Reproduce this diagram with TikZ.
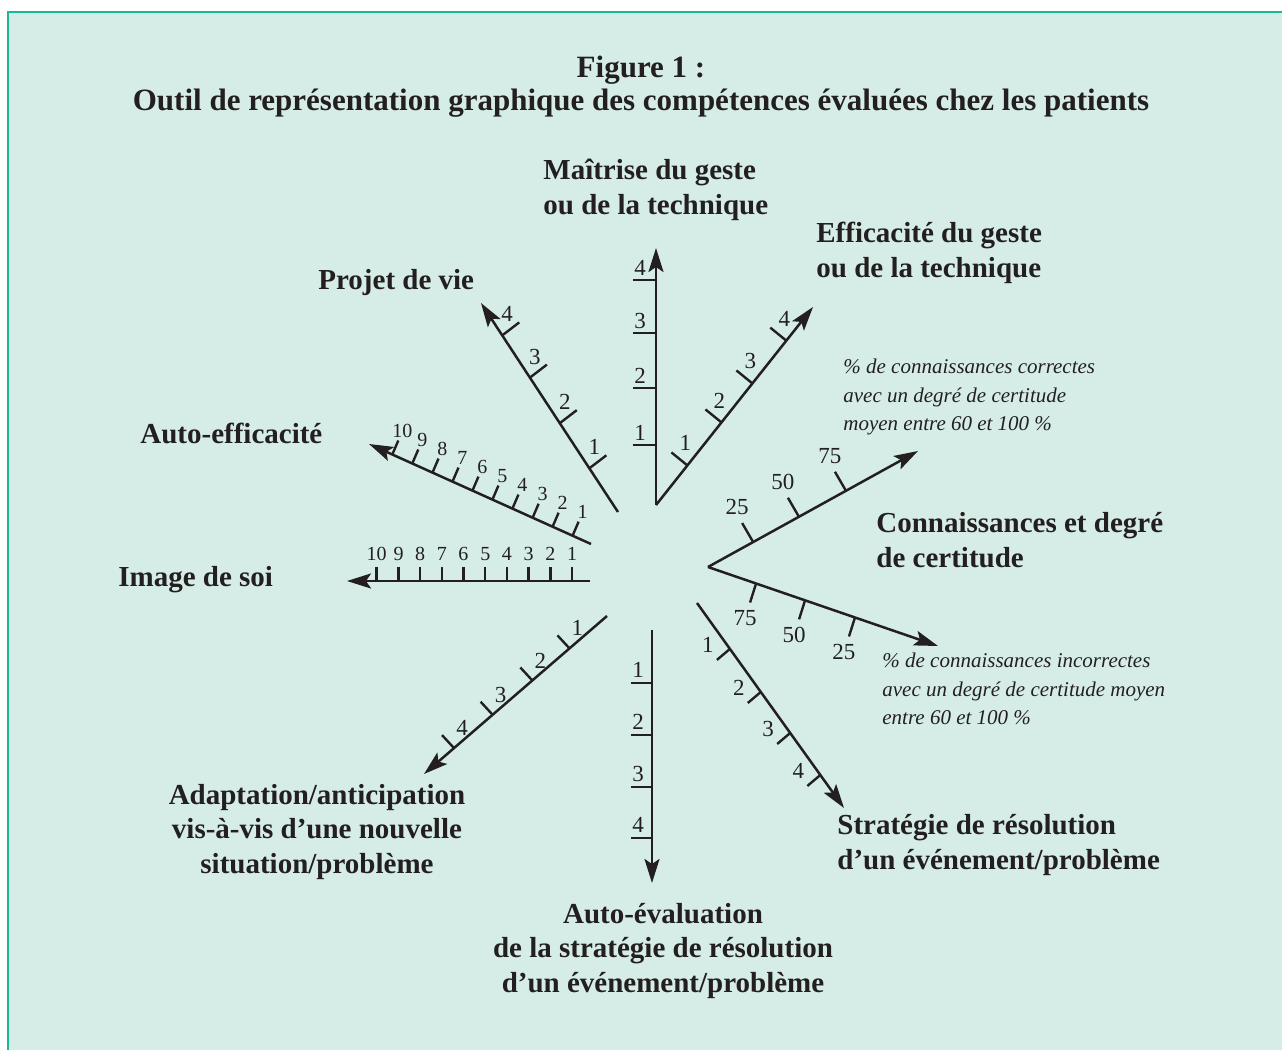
\documentclass[tikz,border=0pt]{standalone}
\usepackage{fontspec}
\setmainfont{Liberation Serif}
\usepackage{xcolor}
\usetikzlibrary{arrows.meta,calc,positioning}
\definecolor{fond}{RGB}{214,237,231}
\definecolor{bord}{RGB}{26,184,150}
\definecolor{encre}{RGB}{35,31,32}

\begin{document}
\begin{tikzpicture}[x=0.5pt, y=-0.5pt]
	\tikzstyle{axe} = [draw = encre, line width = 1.25pt, -{Stealth[length=12pt, width=7.5pt, inset=2.5pt]}]
	\tikzstyle{graduation} = [draw = encre, line width = 1.2pt]
	\tikzstyle{num} = [text = encre, font = \fontsize{11.5}{12}\selectfont, inner sep = 0pt]
	\tikzstyle{petit} = [num, font = \fontsize{10}{10}\selectfont]
	\tikzstyle{entete} = [text = encre, font = \fontsize{15.5}{16.5}\selectfont\bfseries, inner sep = 0pt, align = center]
	\tikzstyle{titre} = [text = encre, font = \fontsize{14.5}{17.2}\selectfont\bfseries, inner sep = 0pt, align = left]
	\tikzstyle{note} = [text = encre, font = \fontsize{10.5}{14.3}\selectfont\itshape, inner sep = 0pt, align = left]
\useasboundingbox (0,0) rectangle (1282,1050);
\fill[fond] (8,12) rectangle (1282,1050);
\draw[bord, line width = 0.8pt] (1282,12) -- (8,12) -- (8,1050);

\node[entete] (titre) at (641,87) {Figure 1~:\\Outil de représentation graphique des compétences évaluées chez les patients};

% extremites des axes
\coordinate (m0) at (656,505);  \coordinate (m1) at (656,248);
\coordinate (e0) at (656,505);  \coordinate (e1) at (813,307);
\coordinate (c0) at (708,567);  \coordinate (c1) at (918,451);
\coordinate (i0) at (708,567);  \coordinate (i1) at (938,646);
\coordinate (s0) at (697,603);  \coordinate (s1) at (844,808);
\coordinate (v0) at (652,630);  \coordinate (v1) at (652,883);
\coordinate (a0) at (607,616);  \coordinate (a1) at (424,774);
\coordinate (q0) at (590,581);  \coordinate (q1) at (347,581);
\coordinate (f0) at (591,544);  \coordinate (f1) at (369,444);
\coordinate (p0) at (618,512);  \coordinate (p1) at (481,303);

	\path[axe] (m0) -- (m1);
	\path[axe] (e0) -- (e1);
	\path[axe] (c0) -- (c1);
	\path[axe] (i0) -- (i1);
	\path[axe] (s0) -- (s1);
	\path[axe] (v0) -- (v1);
	\path[axe] (a0) -- (a1);
	\path[axe] (q0) -- (q1);
	\path[axe] (f0) -- (f1);
	\path[axe] (p0) -- (p1);

% graduations
\path[graduation] ($(m0)!.233!(m1)$) node[num, shift={(-16,-12)}] (m-1) {1} -- ++(-23,0);
\path[graduation] ($(m0)!.455!(m1)$) node[num, shift={(-16,-12)}] (m-2) {2} -- ++(-23,0);
\path[graduation] ($(m0)!.669!(m1)$) node[num, shift={(-16,-12)}] (m-3) {3} -- ++(-23,0);
\path[graduation] ($(m0)!.875!(m1)$) node[num, shift={(-16,-12)}] (m-4) {4} -- ++(-23,0);

\path[graduation] ($(e0)!.200!(e1)$) node[num, shift={(-2,-22)}] (e-1) {1} -- ++(-16,-13);
\path[graduation] ($(e0)!.417!(e1)$) node[num, shift={(-2,-22)}] (e-2) {2} -- ++(-16,-13);
\path[graduation] ($(e0)!.614!(e1)$) node[num, shift={(-2,-22)}] (e-3) {3} -- ++(-16,-13);
\path[graduation] ($(e0)!.830!(e1)$) node[num, shift={(-2,-22)}] (e-4) {4} -- ++(-16,-13);

\path[graduation] ($(c0)!.215!(c1)$) node[num, shift={(-16,-35)}] (c-1) {25} -- ++(-11,-19);
\path[graduation] ($(c0)!.433!(c1)$) node[num, shift={(-16,-35)}] (c-2) {50} -- ++(-11,-19);
\path[graduation] ($(c0)!.657!(c1)$) node[num, shift={(-16,-35)}] (c-3) {75} -- ++(-11,-19);

\path[graduation] ($(i0)!.209!(i1)$) node[num, shift={(-11,35)}] (i-1) {75} -- ++(-6,19);
\path[graduation] ($(i0)!.422!(i1)$) node[num, shift={(-11,35)}] (i-2) {50} -- ++(-6,19);
\path[graduation] ($(i0)!.639!(i1)$) node[num, shift={(-11,35)}] (i-3) {25} -- ++(-6,19);

\path[graduation] ($(s0)!.224!(s1)$) node[num, shift={(-22,-4)}] (s-1) {1} -- ++(-13,11);
\path[graduation] ($(s0)!.434!(s1)$) node[num, shift={(-22,-4)}] (s-2) {2} -- ++(-13,11);
\path[graduation] ($(s0)!.634!(s1)$) node[num, shift={(-22,-4)}] (s-3) {3} -- ++(-13,11);
\path[graduation] ($(s0)!.839!(s1)$) node[num, shift={(-22,-4)}] (s-4) {4} -- ++(-13,11);

\path[graduation] ($(v0)!.209!(v1)$) node[num, shift={(-14,-13)}] (v-1) {1} -- ++(-21,0);
\path[graduation] ($(v0)!.415!(v1)$) node[num, shift={(-14,-13)}] (v-2) {2} -- ++(-21,0);
\path[graduation] ($(v0)!.621!(v1)$) node[num, shift={(-14,-13)}] (v-3) {3} -- ++(-21,0);
\path[graduation] ($(v0)!.822!(v1)$) node[num, shift={(-14,-13)}] (v-4) {4} -- ++(-21,0);

\path[graduation] ($(a0)!.205!(a1)$) node[num, shift={(8,-20)}] (a-1) {1} -- ++(-12,-13);
\path[graduation] ($(a0)!.408!(a1)$) node[num, shift={(8,-20)}] (a-2) {2} -- ++(-12,-13);
\path[graduation] ($(a0)!.625!(a1)$) node[num, shift={(8,-20)}] (a-3) {3} -- ++(-12,-13);
\path[graduation] ($(a0)!.836!(a1)$) node[num, shift={(8,-20)}] (a-4) {4} -- ++(-12,-13);

\path[graduation] ($(p0)!.209!(p1)$) node[num, shift={(5,-21)}] (p-1) {1} -- ++(17,-13);
\path[graduation] ($(p0)!.425!(p1)$) node[num, shift={(5,-21)}] (p-2) {2} -- ++(17,-13);
\path[graduation] ($(p0)!.643!(p1)$) node[num, shift={(5,-21)}] (p-3) {3} -- ++(17,-13);
\path[graduation] ($(p0)!.845!(p1)$) node[num, shift={(5,-21)}] (p-4) {4} -- ++(17,-13);

\path[graduation] ($(q0)!.074!(q1)$) node[petit, shift={(0,-27)}] (q-1) {1} -- ++(0,-14)
	($(q0)!.163!(q1)$) node[petit, shift={(0,-27)}] (q-2) {2} -- ++(0,-14)
	($(q0)!.253!(q1)$) node[petit, shift={(0,-27)}] (q-3) {3} -- ++(0,-14)
	($(q0)!.342!(q1)$) node[petit, shift={(0,-27)}] (q-4) {4} -- ++(0,-14)
	($(q0)!.431!(q1)$) node[petit, shift={(0,-27)}] (q-5) {5} -- ++(0,-14)
	($(q0)!.521!(q1)$) node[petit, shift={(0,-27)}] (q-6) {6} -- ++(0,-14)
	($(q0)!.610!(q1)$) node[petit, shift={(0,-27)}] (q-7) {7} -- ++(0,-14)
	($(q0)!.699!(q1)$) node[petit, shift={(0,-27)}] (q-8) {8} -- ++(0,-14)
	($(q0)!.788!(q1)$) node[petit, shift={(0,-27)}] (q-9) {9} -- ++(0,-14)
	($(q0)!.878!(q1)$) node[petit, shift={(0,-27)}] (q-10) {10} -- ++(0,-14);

\path[graduation] ($(f0)!.083!(f1)$) node[petit, shift={(10,-24)}] (f-1) {1} -- ++(6,-14)
	($(f0)!.173!(f1)$) node[petit, shift={(10,-24)}] (f-2) {2} -- ++(6,-14)
	($(f0)!.263!(f1)$) node[petit, shift={(10,-24)}] (f-3) {3} -- ++(6,-14)
	($(f0)!.354!(f1)$) node[petit, shift={(10,-24)}] (f-4) {4} -- ++(6,-14)
	($(f0)!.444!(f1)$) node[petit, shift={(10,-24)}] (f-5) {5} -- ++(6,-14)
	($(f0)!.534!(f1)$) node[petit, shift={(10,-24)}] (f-6) {6} -- ++(6,-14)
	($(f0)!.624!(f1)$) node[petit, shift={(10,-24)}] (f-7) {7} -- ++(6,-14)
	($(f0)!.714!(f1)$) node[petit, shift={(10,-24)}] (f-8) {8} -- ++(6,-14)
	($(f0)!.805!(f1)$) node[petit, shift={(10,-24)}] (f-9) {9} -- ++(6,-14)
	($(f0)!.895!(f1)$) node[petit, shift={(10,-24)}] (f-10) {10} -- ++(6,-14);

% intitules
\node[titre, anchor = west] (maitrise) at (543,190) {Maîtrise du geste\\ou de la technique};
\node[titre, anchor = west] (efficacite) at (816,253) {Efficacité du geste\\ou de la technique};
\node[titre, anchor = west] (projet) at (318,283) {Projet de vie};
\node[titre, anchor = west] (autoeff) at (140,433) {Auto-efficacité};
\node[titre, anchor = west] (image) at (118,580) {Image de soi};
\node[titre, anchor = west] (connaissances) at (876,540) {Connaissances et degré\\de certitude};
\node[note, anchor = west] (correctes) at (843,397) {\% de connaissances correctes\\avec un degré de certitude\\moyen entre 60 et 100~\%};
\node[note, anchor = west] (incorrectes) at (882,689) {\% de connaissances incorrectes\\avec un degré de certitude moyen\\entre 60 et 100~\%};
\node[titre, anchor = west] (strategie) at (837,845) {Stratégie de résolution\\d’un événement/problème};
\node[titre, align = center] (adaptation) at (317,832) {Adaptation/anticipation\\vis-à-vis d’une nouvelle\\situation/problème};
\node[titre, align = center] (autoeval) at (663,951) {Auto-évaluation\\de la stratégie de résolution\\d’un événement/problème};
	\end{tikzpicture}
\end{document}
